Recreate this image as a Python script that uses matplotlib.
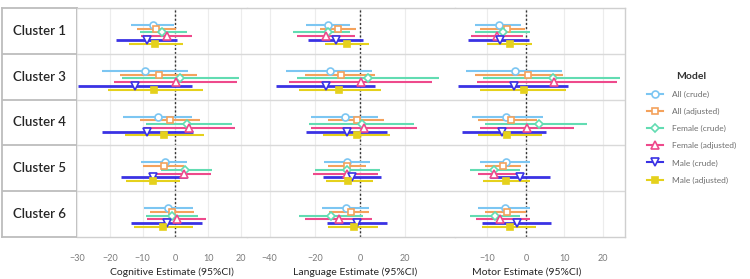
import matplotlib.pyplot as plt
from matplotlib.lines import Line2D

plt.rcParams['font.family'] = ['Lato', 'DejaVu Sans']

clusters = ['Cluster 1', 'Cluster 3', 'Cluster 4', 'Cluster 5', 'Cluster 6']
models = ['All (crude)', 'All (adjusted)', 'Female (crude)',
          'Female (adjusted)', 'Male (crude)', 'Male (adjusted)']
xlabels = ['Cognitive Estimate (95%CI)', 'Language Estimate (95%CI)', 'Motor Estimate (95%CI)']

# rows = clusters, columns = models
cog_est = [[-6.9, -5.8, -4.0, -2.7, -8.8, -6.3],
           [-9.3, -5.0, 1.5, 0.2, -12.3, -6.6],
           [-5.4, -1.7, 3.5, 4.2, -8.6, -3.5],
           [-3.3, -3.4, 3.0, 2.5, -6.8, -6.8],
           [-2.2, -1.2, -1.0, 0.5, -2.5, -3.7]]
cog_lo = [[-13.4, -11.8, -10.8, -10.6, -18.2, -14.1],
          [-22.5, -16.9, -16.2, -18.7, -29.6, -20.7],
          [-15.9, -10.8, -9.1, -9.6, -22.5, -15.5],
          [-10.6, -9.8, -4.5, -6.1, -16.5, -15.2],
          [-9.6, -7.8, -9.1, -8.6, -13.4, -12.6]]
cog_hi = [[-0.3, 0.3, 3.5, 5.0, 0.5, 2.3],
          [3.7, 6.6, 19.5, 18.9, 5.0, 8.4],
          [5.0, 7.4, 17.2, 18.0, 5.4, 8.6],
          [3.5, 2.7, 11.1, 10.8, 3.5, 1.5],
          [5.2, 5.6, 6.8, 9.2, 8.1, 5.4]]

lang_est = [[-14.1, -9.6, -14.0, -15.1, -10.8, -5.9],
            [-13.3, -8.6, 3.4, 0.3, -15.1, -9.2],
            [-6.5, -1.5, 0.7, 1.8, -5.9, -1.5],
            [-5.9, -5.6, -5.9, -5.9, -3.7, -5.2],
            [-6.2, -4.1, -12.9, -9.5, -1.2, -2.7]]
lang_lo = [[-23.7, -17.8, -29.6, -28.1, -23.0, -15.6],
           [-32.6, -24.4, -28.1, -31.4, -37.0, -27.0],
           [-21.5, -14.1, -22.7, -21.8, -24.0, -16.3],
           [-16.0, -14.1, -20.0, -20.7, -16.6, -15.1],
           [-17.0, -13.6, -27.0, -24.4, -14.5, -14.1]]
lang_hi = [[-4.4, -1.8, -4.4, -2.2, 1.2, 4.1],
           [5.2, 6.7, 34.8, 31.9, 6.7, 9.2],
           [8.1, 10.7, 23.7, 25.2, 11.9, 13.3],
           [4.4, 2.7, 8.9, 8.1, 9.2, 5.6],
           [4.1, 4.1, 1.5, 5.2, 12.1, 8.1]]

mot_est = [[-7.1, -4.9, -6.0, -7.5, -6.8, -4.2],
           [-2.8, 0.5, 7.0, 7.4, -3.2, -0.6],
           [-5.1, -3.9, 3.3, 0.3, -6.1, -4.8],
           [-5.1, -6.0, -8.4, -8.2, -1.6, -5.1],
           [-5.4, -4.9, -8.0, -6.7, -2.2, -4.1]]
mot_lo = [[-13.2, -11.9, -13.2, -14.2, -15.0, -10.1],
          [-15.5, -13.2, -11.1, -12.6, -17.6, -11.9],
          [-13.9, -12.4, -10.6, -11.9, -16.6, -12.4],
          [-11.9, -10.6, -14.5, -12.4, -9.3, -11.1],
          [-12.4, -10.6, -14.5, -12.9, -11.4, -11.4]]
mot_hi = [[-1.3, -0.3, 1.0, -0.8, 0.7, 1.6],
          [9.4, 9.6, 24.3, 23.6, 10.8, 10.5],
          [4.4, 3.0, 15.8, 12.4, 5.3, 4.2],
          [1.1, -1.3, -1.6, -0.8, 6.3, 1.1],
          [1.1, 0.0, -1.5, 1.1, 6.5, 2.7]]

colors = ['#7cc6f2', '#f4a25c', '#62dcb2', '#ee4a8c', '#3a32e4', '#e5d11c']
markers = ['o', 's', 'D', '^', 'v', 's']
faces = ['white', 'white', 'white', 'white', 'white', '#e5d11c']
widths = [1.5, 1.5, 1.5, 1.5, 2.0, 1.5]
msizes = [5, 5, 4.5, 5.5, 5.5, 5]

panels = [(cog_est, cog_lo, cog_hi), (lang_est, lang_lo, lang_hi), (mot_est, mot_lo, mot_hi)]
limits = [(-30, 21.8), (-50, 42), (-18.4, 25.7)]
ticks = [[-30, -20, -10, 0, 10, 20], [-40, -20, 0, 20], [-10, 0, 10, 20]]
label_x = [0.56, 0.52, 0.42]

W, H = 750, 279
fig = plt.figure(figsize=(7.5, 2.79), dpi=100)
top, bottom = 8, 237
edges = [2, 77, 247, 455, 625]


def box(x0, x1):
    return [x0 / W, 1 - bottom / H, (x1 - x0) / W, (bottom - top) / H]


n = len(clusters)
grid_c = '#d9d9d9'

# cluster label column
ax0 = fig.add_axes(box(edges[0], edges[1]))
ax0.set_xlim(0, 1)
ax0.set_ylim(n, 0)
ax0.set_xticks([])
ax0.set_yticks([])
for s in ax0.spines.values():
    s.set_color('#bdbdbd')
    s.set_linewidth(1.3)
for i, c in enumerate(clusters):
    ax0.text(0.5, i + 0.5, c, ha='center', va='center', fontsize=9.5,
             fontweight='semibold', color='#262626')
    if i > 0:
        ax0.axhline(i, color='#bdbdbd', lw=1.3)

for p, (est, lo, hi) in enumerate(panels):
    ax = fig.add_axes(box(edges[p + 1], edges[p + 2]))
    ax.set_xlim(*limits[p])
    ax.set_ylim(n, 0)
    ax.set_yticks([])
    ax.set_xticks(ticks[p])
    ax.tick_params(axis='x', length=0, pad=12, labelsize=6.5, labelcolor='#7a7a7a')
    ax.grid(axis='x', color='#ececec', lw=0.8)
    ax.set_axisbelow(True)
    for side, s in ax.spines.items():
        s.set_color('#cfcfcf')
        s.set_linewidth(1.0)
    ax.spines['left'].set_visible(False)
    if p < 2:
        ax.spines['right'].set_visible(False)
    for i in range(1, n):
        ax.axhline(i, color=grid_c, lw=1.0)
    ax.axvline(0, color='#333333', lw=1.0, ls=(0, (1.5, 1.5)), zorder=1)
    for i in range(n):
        for k in range(len(models)):
            y = i + (17 + 3.8 * k) / 46
            ax.hlines(y, lo[i][k], hi[i][k], color=colors[k], lw=widths[k], zorder=2)
            ax.plot(est[i][k], y, ls='none', marker=markers[k], ms=msizes[k],
                    mfc=faces[k], mec=colors[k], mew=1.2, zorder=3)
    ax.set_xlabel(xlabels[p], fontsize=7.5, color='#262626', labelpad=3)
    ax.xaxis.set_label_coords(label_x[p], -0.135)

handles = [Line2D([0], [0], color=colors[k], lw=1.5, marker=markers[k], ms=msizes[k],
                  mfc=faces[k], mec=colors[k], mew=1.2) for k in range(len(models))]
leg = fig.legend(handles, models, loc='upper left', bbox_to_anchor=(0.852, 0.77),
                 frameon=False, title='Model', fontsize=6, labelcolor='#6e6e6e',
                 title_fontproperties={'weight': 'bold', 'size': 7.5},
                 handlelength=2.0, labelspacing=1.2, handletextpad=1.0)
leg.get_title().set_color('#333333')

fig.savefig('out.png', dpi=100)
